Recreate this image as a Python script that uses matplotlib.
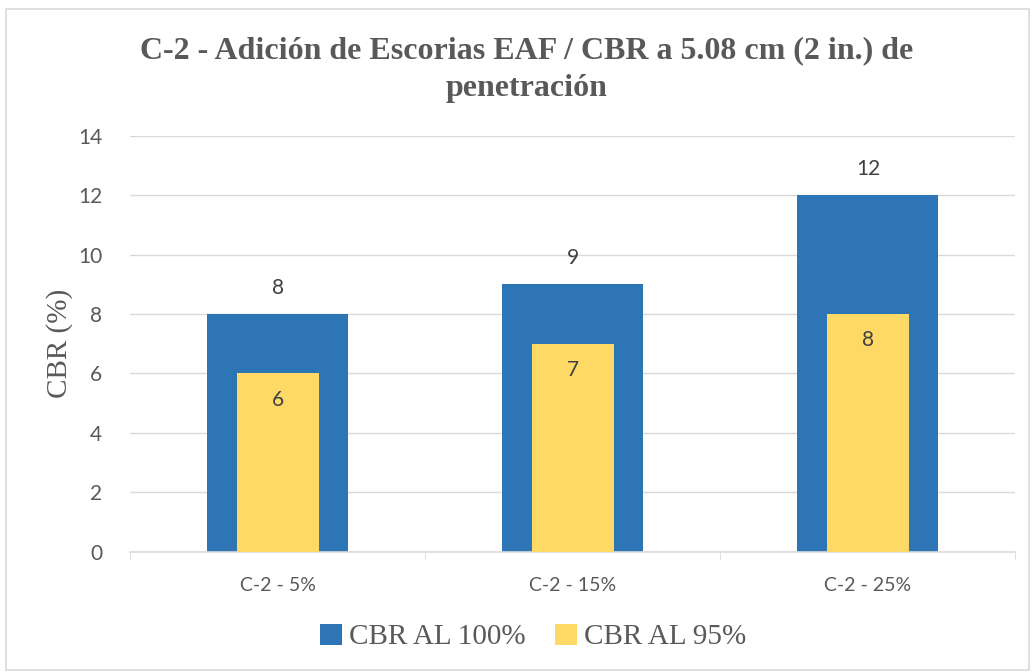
import numpy as np
import matplotlib.pyplot as plt
from matplotlib.patches import Rectangle

categories = ["C-2 - 5%", "C-2 - 15%", "C-2 - 25%"]
cbr_100 = [8, 9, 12]
cbr_95 = [6, 7, 8]

blue = "#2E75B6"
yellow = "#FFD966"
grey = "#595959"

fig = plt.figure(figsize=(10.33, 6.72), dpi=100)
ax = fig.add_axes([0.126, 0.179, 0.857, 0.619])

# outer chart border
fig.patches.append(Rectangle((0.006, 0.003), 0.99, 0.984, transform=fig.transFigure,
                             fill=False, edgecolor="#D9D9D9", linewidth=1.2))

x = np.arange(len(categories))
b1 = ax.bar(x, cbr_100, width=0.478, color=blue, label="CBR AL 100%", zorder=2)
b2 = ax.bar(x, cbr_95, width=0.278, color=yellow, label="CBR AL 95%", zorder=3)

for xi, v in zip(x, cbr_100):
    ax.text(xi, v + 0.55, str(v), ha="center", va="bottom", fontsize=15,
            family="Lato", color="#404040")
for xi, v in zip(x, cbr_95):
    ax.text(xi, v - 0.55, str(v), ha="center", va="top", fontsize=15,
            family="Lato", color="#404040")

ax.set_xlim(-0.5, 2.5)
ax.set_ylim(0, 14)
ax.set_yticks(range(0, 15, 2))
ax.set_xticks(x)
ax.set_xticklabels(categories, family="Lato", fontsize=14, color=grey)
ax.set_xticks([-0.5, 0.5, 1.5, 2.5], minor=True)
ax.tick_params(axis="x", which="major", length=0, pad=18)
ax.tick_params(axis="x", which="minor", length=6, color="#D9D9D9", direction="out")
ax.tick_params(axis="y", length=0, pad=20, labelsize=15, labelcolor=grey)
for lab in ax.get_yticklabels():
    lab.set_family("Lato")

ax.grid(axis="y", color="#D9D9D9", linewidth=1, zorder=0)
for s in ["top", "right", "left"]:
    ax.spines[s].set_visible(False)
ax.spines["bottom"].set_color("#D9D9D9")
ax.spines["bottom"].set_linewidth(1.2)

ax.set_ylabel("CBR (%)", family="Liberation Serif", fontsize=21, color=grey, labelpad=4)

fig.text(0.51, 0.897, "C-2 - Adición de Escorias EAF / CBR a 5.08 cm (2 in.) de\npenetración",
         ha="center", va="center", family="Liberation Serif", fontweight="bold",
         fontsize=23, color=grey, linespacing=1.4)

fig.legend(handles=[b1, b2], loc="center", bbox_to_anchor=(0.516, 0.052), ncol=2,
           frameon=False, prop={"family": "Liberation Serif", "size": 21},
           labelcolor=grey, handlelength=0.75, handleheight=0.75,
           handletextpad=0.25, columnspacing=1.0)

fig.savefig("out.png", dpi=100)
